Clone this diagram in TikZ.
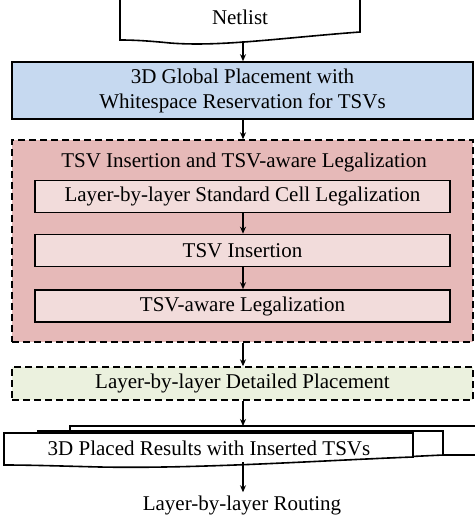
\documentclass[tikz,border=0pt]{standalone}
\usepackage{fontspec}
\setmainfont{Liberation Serif}
\usetikzlibrary{arrows.meta}
\definecolor{gpblue}{RGB}{198,217,240}
\definecolor{tsvred}{RGB}{230,185,184}
\definecolor{tsvpink}{RGB}{242,220,219}
\definecolor{dpgreen}{RGB}{235,241,222}
\tikzset{
  txt/.style={font=\fontsize{21}{25}\selectfont, inner sep=0pt, align=center},
  box/.style={txt, draw, line width=1.6pt, minimum width=461pt},
  inbox/.style={txt, draw, line width=1.6pt, fill=tsvpink, minimum width=415pt, minimum height=32pt},
  dashbox/.style={draw, line width=1.4pt, dash pattern=on 7pt off 4pt},
  docline/.style={draw, line width=1.6pt, fill=white},
  flow/.style={line width=1.3pt, -{Stealth[length=7pt,width=6pt]}}
}
\begin{document}
\begin{tikzpicture}[x=1pt,y=-1pt]
\useasboundingbox (0,0) rectangle (474,519);
\fill[white] (0,0) rectangle (474,519);

% Netlist document
\draw[docline] (120,-1) -- (360,-1) -- (360,32)
  .. controls (280,38) and (220,47) .. (170,43)
  .. controls (150,41) and (135,40) .. (120,40) -- cycle;
\node[txt] (netlist) at (240,17) {Netlist};
\coordinate (netbot) at (243,41);

% Global placement
\node[box, fill=gpblue, minimum height=57pt] (gp) at (242.5,90.5)
  {3D Global Placement with\\Whitespace Reservation for TSVs};

% TSV insertion group
\node[dashbox, fill=tsvred, minimum width=461pt, minimum height=202pt] (grp) at (242.5,241) {};
\node[txt] (grptitle) at (244,162) {TSV Insertion and TSV-aware Legalization};
\node[inbox] (leg1) at (242.5,196.5) {Layer-by-layer Standard Cell Legalization};
\node[inbox] (ins) at (242.5,250.5) {TSV Insertion};
\node[inbox] (leg2) at (242.5,306) {TSV-aware Legalization};

% Detailed placement
\node[txt, dashbox, fill=dpgreen, minimum width=461pt, minimum height=33pt] (dp) at (242.5,383.5)
  {Layer-by-layer Detailed Placement};

% Stacked documents
\draw[docline] (70,462) -- (70,426) -- (480,426) -- (480,455) -- (300,455) -- (70,462);
\draw[docline] (38,462) -- (38,431) -- (443,431) -- (443,455)
  .. controls (380,458) and (300,462) .. (200,464) -- (38,462);
\draw[docline] (4,433) -- (413,433) -- (413,457)
  .. controls (330,460) and (200,469) .. (100,467)
  .. controls (60,466) and (30,465) .. (4,465) -- cycle;
\node[txt] (res) at (209,448) {3D Placed Results with Inserted TSVs};
\coordinate (restop) at (243,426);
\coordinate (resbot) at (243,462);

\node[txt, inner sep=3pt] (route) at (242,505) {Layer-by-layer Routing};

% Connectors
\draw[flow] (netbot) -- (gp.north -| netbot);
\draw[flow] (gp.south -| netbot) -- (grp.north -| netbot);
\draw[flow] (leg1.south -| netbot) -- (ins.north -| netbot);
\draw[flow] (ins.south -| netbot) -- (leg2.north -| netbot);
\draw[flow] (grp.south -| netbot) -- (dp.north -| netbot);
\draw[flow] (dp.south -| netbot) -- (restop);
\draw[flow] (resbot) -- (route.north -| netbot);
\end{tikzpicture}
\end{document}
